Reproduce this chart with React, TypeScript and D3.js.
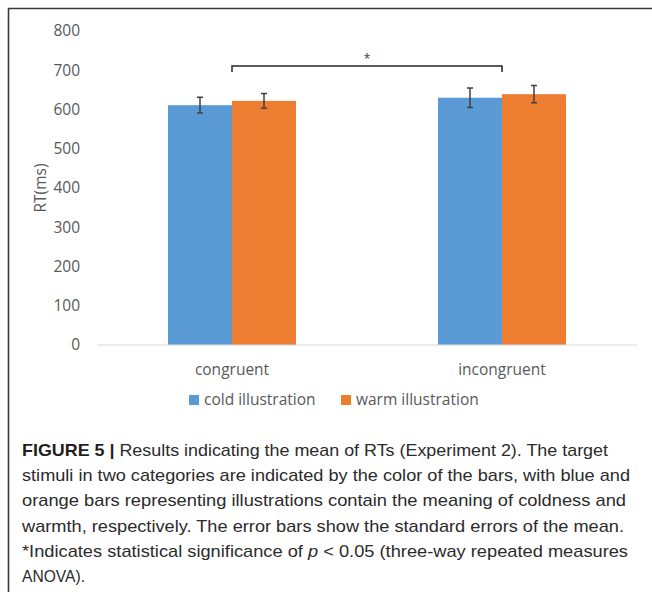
import React, { useEffect } from 'react'
import * as d3 from 'd3'

// data
const categories = ['congruent', 'incongruent']
const seriesNames = ['cold illustration', 'warm illustration']
const coldMeans = [611, 630]
const warmMeans = [622, 639]
const coldErrors = [20, 25]
const warmErrors = [19, 22]
const yTicks = [0, 100, 200, 300, 400, 500, 600, 700, 800]
const captionLines = [
  'Results indicating the mean of RTs (Experiment 2). The target',
  'stimuli in two categories are indicated by the color of the bars, with blue and',
  'orange bars representing illustrations contain the meaning of coldness and',
  'warmth, respectively. The error bars show the standard errors of the mean.',
  '*Indicates statistical significance of p < 0.05 (three-way repeated measures',
  'ANOVA).',
]
const captionEnds = [608, 630, 626, 624, 628, 85]

const colors = ['#5B9BD5', '#ED7D31']
const chartFont = "'Open Sans', 'Noto Sans', sans-serif"
const captionFont = "'Liberation Sans Narrow', 'Liberation Sans', Arial, sans-serif"

const App: React.FC = () => {
  useEffect(() => {
    document.body.style.margin = '0'
  }, [])

  const width = 652
  const height = 592

  const x = d3.scaleBand().domain(categories).range([97, 637])
  const inner = d3.scaleBand().domain(seriesNames).range([0, 128])
  const y = d3.scaleLinear().domain([0, 800]).range([345, 31])

  const values = [coldMeans, warmMeans]
  const errors = [coldErrors, warmErrors]

  const groupX = (c: string) => (x(c) as number) + x.bandwidth() / 2 - 64

  const bracketLeft = groupX(categories[0]) + 64
  const bracketRight = groupX(categories[1]) + 64
  const bracketY = 66

  return (
    <svg width={width} height={height} style={{ display: 'block' }}>
      <rect width={width} height={height} fill="#fff" />
      {/* frame */}
      <path d={`M8.5,${height} V8.5 H${width}`} fill="none" stroke="#3a3a3a" strokeWidth={1.6} />

      {/* y ticks */}
      <g fontFamily={chartFont} fontSize={15.5} fill="#595959" textAnchor="end">
        {yTicks.map((t) => (
          <text key={t} x={80} y={y(t)} dy="0.35em">
            {t}
          </text>
        ))}
      </g>
      <text
        transform={`translate(46,188) rotate(-90)`}
        textAnchor="middle"
        fontFamily={chartFont}
        fontSize={15.5}
        fill="#595959"
      >
        RT(ms)
      </text>

      {/* bars */}
      {categories.map((c, ci) => (
        <g key={c} transform={`translate(${groupX(c)},0)`}>
          {seriesNames.map((s, si) => (
            <rect
              key={s}
              x={inner(s)}
              y={y(values[si][ci])}
              width={inner.bandwidth()}
              height={y(0) - y(values[si][ci])}
              fill={colors[si]}
            />
          ))}
          {seriesNames.map((s, si) => {
            const cx = (inner(s) as number) + inner.bandwidth() / 2
            const top = y(values[si][ci] + errors[si][ci])
            const bot = y(values[si][ci] - errors[si][ci])
            return (
              <path
                key={s + 'err'}
                d={`M${cx - 3},${top} H${cx + 3} M${cx},${top} V${bot} M${cx - 3},${bot} H${cx + 3}`}
                stroke="#404040"
                strokeWidth={1.5}
                fill="none"
              />
            )
          })}
        </g>
      ))}

      {/* x axis */}
      <line x1={97} x2={637} y1={y(0)} y2={y(0)} stroke="#d9d9d9" strokeWidth={1} />
      <g fontFamily={chartFont} fontSize={15.5} fill="#595959" textAnchor="middle">
        {categories.map((c) => (
          <text key={c} x={(x(c) as number) + x.bandwidth() / 2} y={370} dy="0.35em">
            {c}
          </text>
        ))}
      </g>

      {/* significance bracket */}
      <path
        d={`M${bracketLeft},${bracketY + 6} V${bracketY} H${bracketRight} V${bracketY + 6}`}
        fill="none"
        stroke="#262626"
        strokeWidth={1.5}
      />
      <text
        x={(bracketLeft + bracketRight) / 2}
        y={bracketY - 3}
        textAnchor="middle"
        fontFamily={chartFont}
        fontSize={12}
        fill="#404040"
      >
        *
      </text>

      {/* legend */}
      <g fontFamily={chartFont} fontSize={15.5} fill="#595959">
        {seriesNames.map((s, i) => {
          const lx = i === 0 ? 189 : 341
          return (
            <g key={s} transform={`translate(${lx},400)`}>
              <rect x={0} y={-5} width={10} height={10} fill={colors[i]} />
              <text x={15} y={0} dy="0.35em">
                {s}
              </text>
            </g>
          )
        })}
      </g>

      {/* caption */}
      <g fontFamily={captionFont} fontSize={17} fill="#2b2b2b">
        {captionLines.map((line, i) => {
          const yy = 456 + i * 25.2
          if (i === 0) {
            return (
              <text key={i} x={22} y={yy} textLength={captionEnds[i] - 22} lengthAdjust="spacingAndGlyphs">
                <tspan fontWeight="bold" fill="#231f20">FIGURE 5 | </tspan>
                {line}
              </text>
            )
          }
          if (i === 4) {
            const parts = line.split('p <')
            return (
              <text key={i} x={22} y={yy} textLength={captionEnds[i] - 22} lengthAdjust="spacingAndGlyphs">
                {parts[0]}
                <tspan fontStyle="italic">p</tspan>
                {' <' + parts[1]}
              </text>
            )
          }
          return (
            <text key={i} x={22} y={yy} textLength={captionEnds[i] - 22} lengthAdjust="spacingAndGlyphs">
              {line}
            </text>
          )
        })}
      </g>
    </svg>
  )
}

export default App
